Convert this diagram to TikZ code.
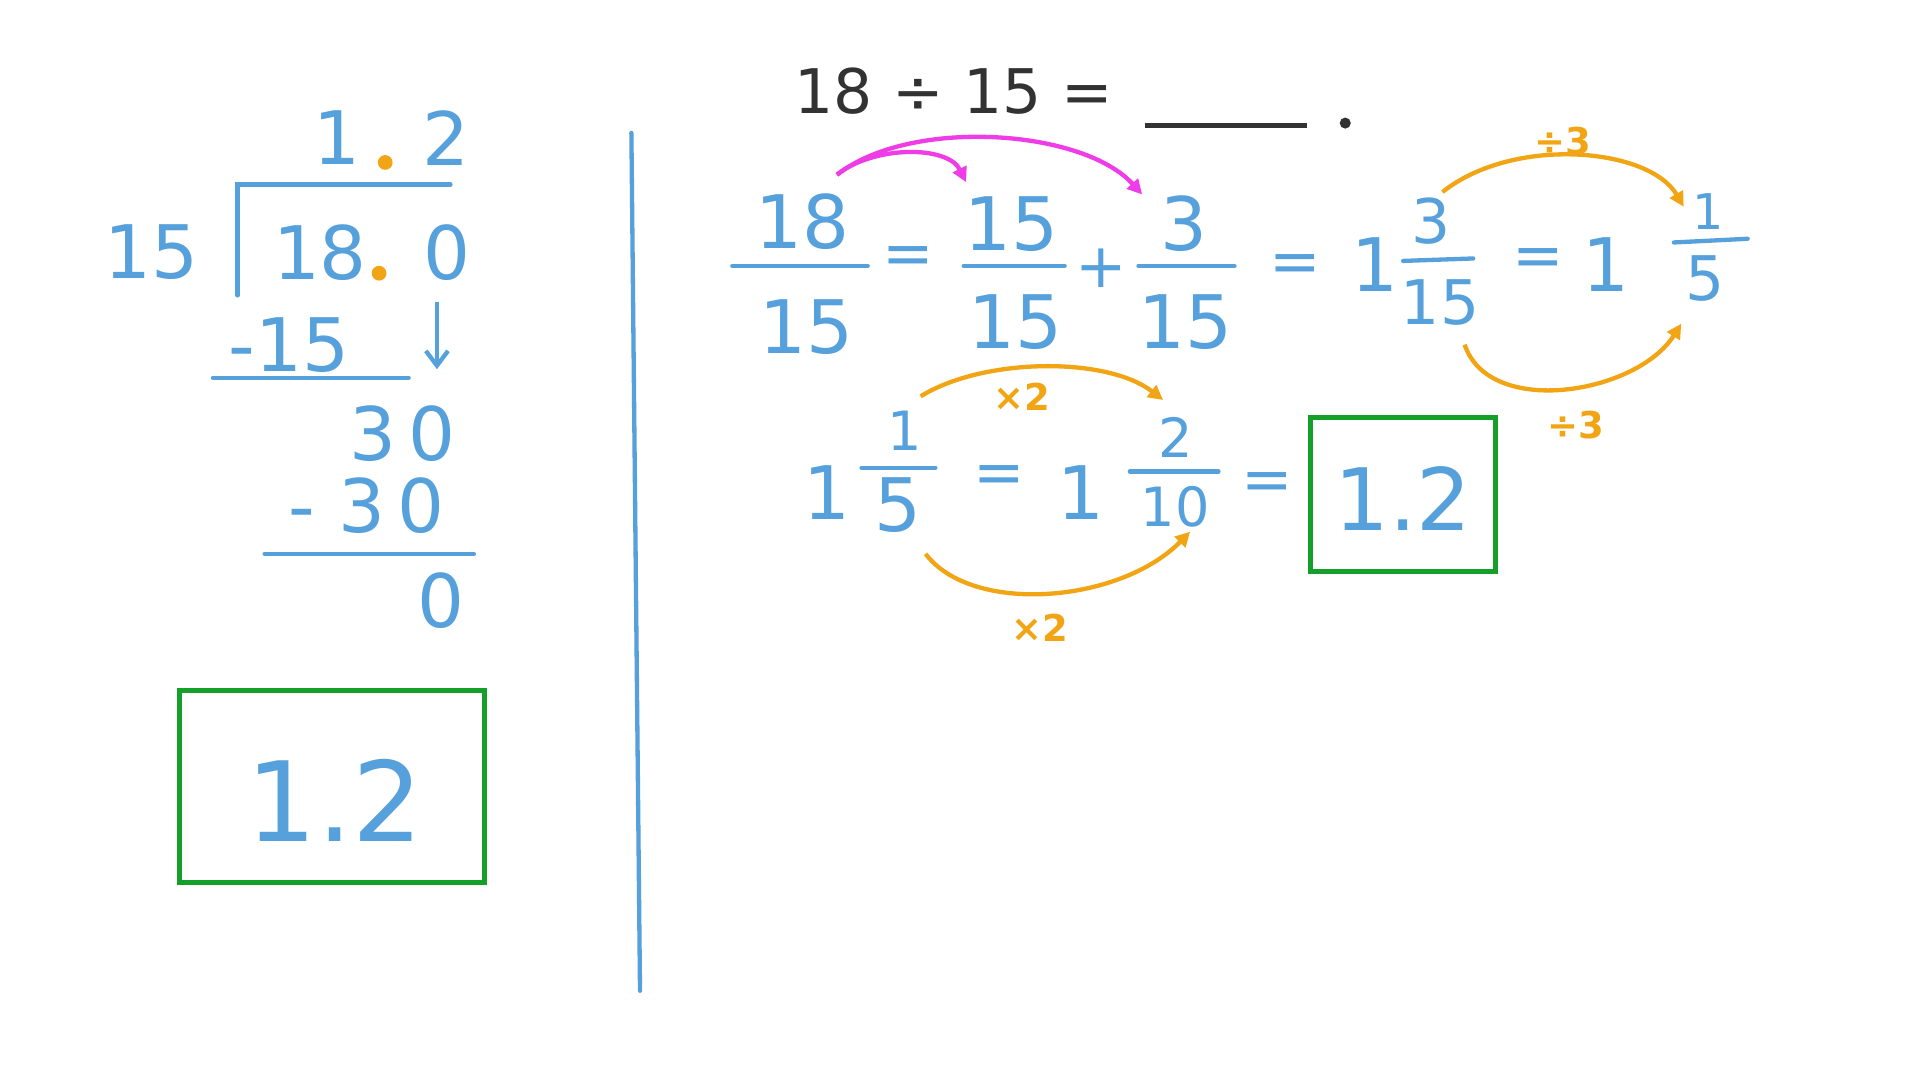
\documentclass[tikz,border=0pt]{standalone}
\usepackage{fontspec}
\setmainfont{DejaVu Sans}
\usetikzlibrary{arrows.meta}
\definecolor{bl}{RGB}{86,160,220}
\definecolor{og}{RGB}{242,165,20}
\definecolor{mg}{RGB}{240,60,230}
\definecolor{gr}{RGB}{20,160,40}
\definecolor{dk}{RGB}{50,50,50}
\tikzset{
 big/.style={text=bl,font=\fontsize{60}{60}\selectfont,inner sep=0pt},
 sml/.style={text=bl,font=\fontsize{50}{50}\selectfont,inner sep=0pt},
 mid/.style={text=dk,font=\fontsize{50}{50}\selectfont,inner sep=0pt},
 lab/.style={text=og,font=\fontsize{30}{30}\selectfont\bfseries,inner sep=0pt},
 bline/.style={draw=bl,line width=3.5pt,line cap=round},
 oarr/.style={draw=og,line width=3.5pt,-{Triangle[length=12pt,width=12pt]}},
 marr/.style={draw=mg,line width=3.5pt,-{Triangle[length=12pt,width=12pt]}},
 gbox/.style={draw=gr,line width=4pt},
 dot/.style={circle,fill=og,inner sep=0pt,minimum size=12pt}
}
\begin{document}
\begin{tikzpicture}[x=1pt,y=-1pt]
\useasboundingbox (0,0) rectangle (1560,877.5);
% long division
\node[big] (q1) at (274,112) {1};
\node[dot] (qd) at (313,132) {};
\node[big] (q2) at (362,112) {2};
\coordinate (b1) at (193,240); \coordinate (b2) at (193,150); \coordinate (b3) at (366,150);
\draw[bline] (b1)--(b2)--(b3);
\node[big] (d15) at (123,205) {15};
\node[big] (n18) at (260,205) {18};
\node[dot] (nd) at (308,222) {};
\node[big] (n0) at (363,205) {0};
\node[big] (s15) at (235,280) {-15};
\coordinate (a1) at (355,245); \coordinate (a2) at (355,300);
\draw[draw=bl,line width=3.5pt,-{Straight Barb[length=12pt,width=18pt]}] (a1)--(a2);
\coordinate (l1) at (173,307); \coordinate (l2) at (332,307);
\draw[bline] (l1)--(l2);
\node[big] (r30) at (327,352) {3\,0};
\node[big] (s30) at (298,411) {- 3\,0};
\coordinate (l3) at (215,450); \coordinate (l4) at (385,450);
\draw[bline] (l3)--(l4);
\node[big] (r0) at (358,488) {0};
\node[gbox,minimum width=248pt,minimum height=156pt] (ans1) at (270,639) {};
\node[big,font=\fontsize{90}{90}\selectfont] (ansT) at (272,650) {1.2};
% divider
\coordinate (v1) at (513,108); \coordinate (v2) at (520,805);
\draw[bline] (v1)--(v2);
% top
\node[mid] (top) at (775,74) {18 ÷ 15 =};
\coordinate (u1) at (930,102); \coordinate (u2) at (1062,102);
\draw[draw=dk,line width=3.5pt] (u1)--(u2);
\node[circle,fill=dk,inner sep=0pt,minimum size=9pt] (tdot) at (1093,100) {};
% row 2
\node[big] (f1n) at (652,180) {18}; \node[big] (f1d) at (655,266) {15};
\coordinate (f1a) at (595,216); \coordinate (f1b) at (705,216); \draw[bline] (f1a)--(f1b);
\node[sml] (e1) at (738,212) {=};
\node[big] (f2n) at (822,182) {15}; \node[big] (f2d) at (825,262) {15};
\coordinate (f2a) at (783,216); \coordinate (f2b) at (865,216); \draw[bline] (f2a)--(f2b);
\node[sml] (pl) at (895,218) {+};
\node[big] (f3n) at (962,182) {3}; \node[big] (f3d) at (963,262) {15};
\coordinate (f3a) at (925,216); \coordinate (f3b) at (1003,216); \draw[bline] (f3a)--(f3b);
\node[sml] (e2) at (1052,218) {=};
\node[big] (w1) at (1117,215) {1};
\node[sml] (f4n) at (1163,180) {3}; \node[sml] (f4d) at (1170,246) {15};
\coordinate (f4a) at (1140,212) ; \coordinate (f4b) at (1197,210); \draw[bline] (f4a)--(f4b);
\node[sml] (e3) at (1250,213) {=};
\node[big] (w2) at (1305,215) {1};
\node[text=bl,font=\fontsize{40}{40}\selectfont,inner sep=0pt] (f5n) at (1388,172) {1}; \node[sml] (f5d) at (1385,226) {5};
\coordinate (f5a) at (1360,197); \coordinate (f5b) at (1420,194); \draw[bline] (f5a)--(f5b);
% magenta arrows
\coordinate (m0) at (680,142); \coordinate (m1) at (785,148); \coordinate (m2) at (928,158);
\draw[marr] (m0) .. controls (710,118) and (770,118) .. (m1);
\draw[marr] (m0) .. controls (740,95) and (880,105) .. (m2);
% orange div 3
\coordinate (o1) at (1172,156); \coordinate (o2) at (1368,168);
\draw[oarr] (o1) .. controls (1230,110) and (1340,120) .. (o2);
\node[lab] (l3a) at (1270,115) {÷3};
\coordinate (o3) at (1190,280); \coordinate (o4) at (1366,263);
\draw[oarr] (o3) .. controls (1210,340) and (1330,320) .. (o4);
\node[lab] (l3b) at (1280,345) {÷3};
% row 3
\node[big] (w3) at (672,400) {1};
\node[text=bl,font=\fontsize{44}{44}\selectfont,inner sep=0pt] (g1n) at (735,350) {1}; \node[big] (g1d) at (730,410) {5};
\coordinate (g1a) at (700,380); \coordinate (g1b) at (760,380); \draw[bline] (g1a)--(g1b);
\node[sml] (e4) at (812,390) {=};
\node[big] (w4) at (878,400) {1};
\node[text=bl,font=\fontsize{44}{44}\selectfont,inner sep=0pt] (g2n) at (955,355) {2}; \node[text=bl,font=\fontsize{44}{44}\selectfont,inner sep=0pt] (g2d) at (955,412) {10};
\coordinate (g2a) at (918,383); \coordinate (g2b) at (990,383); \draw[bline] (g2a)--(g2b);
\node[sml] (e5) at (1030,395) {=};
\node[gbox,minimum width=150pt,minimum height=125pt] (ans2) at (1140,402) {};
\node[big,font=\fontsize{70}{70}\selectfont] (ans2T) at (1140,405) {1.2};
\coordinate (x1) at (748,322); \coordinate (x2) at (945,325);
\draw[oarr] (x1) .. controls (800,290) and (900,290) .. (x2);
\node[lab] (lx1) at (830,322) {×2};
\coordinate (x3) at (752,450); \coordinate (x4) at (967,432);
\draw[oarr] (x3) .. controls (790,500) and (910,490) .. (x4);
\node[lab] (lx2) at (845,510) {×2};
\end{tikzpicture}
\end{document}
